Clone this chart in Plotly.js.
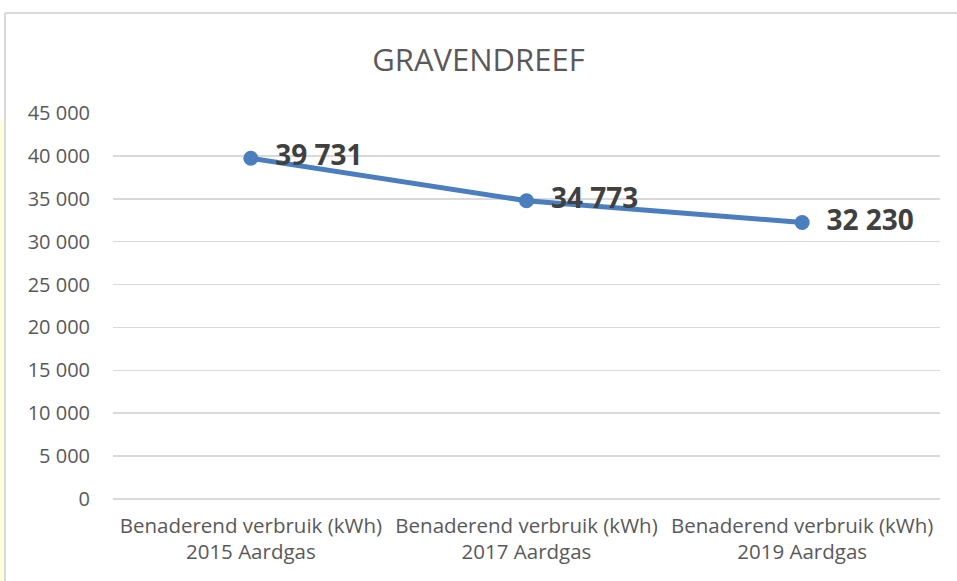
<!DOCTYPE html>
<html>
<head>
<meta charset="utf-8">
<script src="https://cdn.plot.ly/plotly-3.0.1.min.js"></script>
<style>
  html, body { margin: 0; padding: 0; background: #ffffff; }
  #chart { width: 957px; height: 581px; }
</style>
</head>
<body>
<div id="chart"></div>
<script>
const categories = [
  "Benaderend verbruik (kWh)<br>2015 Aardgas",
  "Benaderend verbruik (kWh)<br>2017 Aardgas",
  "Benaderend verbruik (kWh)<br>2019 Aardgas"
];
const values = [39731, 34773, 32230];
const yTicks = [0, 5000, 10000, 15000, 20000, 25000, 30000, 35000, 40000, 45000];
const chartTitle = "GRAVENDREEF";

const trace = {
  type: "scatter",
  mode: "lines+markers+text",
  x: categories,
  y: values,
  line: { color: "#4a7ebf", width: 5 },
  marker: { color: "#4a7ebf", size: 15 },
  texttemplate: "\u2002%{y:,d}",
  textposition: "middle right",
  textfont: { family: "Open Sans, sans-serif", size: 28, color: "#404040", weight: "bold" },
  cliponaxis: false,
  hoverinfo: "skip"
};

const layout = {
  width: 957,
  height: 581,
  separators: ", ",
  paper_bgcolor: "#ffffff",
  plot_bgcolor: "#ffffff",
  margin: { l: 113, r: 17, t: 113, b: 82 },
  showlegend: false,
  title: {
    text: chartTitle,
    font: { family: "Open Sans, sans-serif", size: 31, color: "#595959" },
    x: 0.5, xanchor: "center",
    y: 1 - 60 / 581, yref: "container", yanchor: "middle"
  },
  xaxis: {
    type: "category",
    range: [-0.5, 2.5],
    showgrid: false,
    zeroline: false,
    showline: false,
    ticks: "",
    tickfont: { family: "Open Sans, sans-serif", size: 20.5, color: "#595959" },
    ticklabelstandoff: 12,
    fixedrange: true
  },
  yaxis: {
    range: [0, 45000],
    tickvals: yTicks,
    tickformat: ",d",
    showgrid: true,
    gridcolor: "#d9d9d9",
    gridwidth: 1.5,
    zeroline: true,
    zerolinecolor: "#d9d9d9",
    zerolinewidth: 1.5,
    showline: false,
    ticks: "",
    ticklabelstandoff: 22,
    tickfont: { family: "Open Sans, sans-serif", size: 20, color: "#595959" },
    fixedrange: true
  },
  shapes: [
    { type: "rect", xref: "paper", yref: "paper", layer: "below",
      x0: -113/827, x1: -107/827, y0: -82/386, y1: (499-120)/386,
      fillcolor: "#ffffde", line: { width: 0 } },
    { type: "rect", xref: "paper", yref: "paper", layer: "below",
      x0: (390-113)/827, x1: (490-113)/827, y0: (499)/386, y1: (499+12)/386,
      fillcolor: "#fffbe0", line: { width: 0 } },
    { type: "rect", xref: "paper", yref: "paper", layer: "below",
      x0: (775-113)/827, x1: (957-113)/827, y0: (499)/386, y1: (499+12)/386,
      fillcolor: "#ffffd8", line: { width: 0 } },
    { type: "line", xref: "paper", yref: "paper", layer: "below",
      x0: (5-113)/827, x1: (5-113)/827, y0: -82/386, y1: (499-13)/386,
      line: { color: "#d9d9d9", width: 2 } },
    { type: "line", xref: "paper", yref: "paper", layer: "below",
      x0: (5-113)/827, x1: (957-113)/827, y0: (499-13)/386, y1: (499-13)/386,
      line: { color: "#d9d9d9", width: 2 } }
  ]
};

Plotly.newPlot("chart", [trace], layout, { displayModeBar: false, staticPlot: true });
</script>
</body>
</html>
